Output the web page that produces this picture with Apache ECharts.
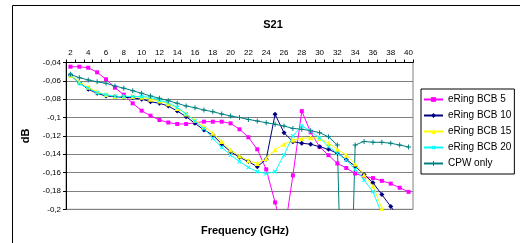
<!DOCTYPE html>
<html>
<head>
    <meta charset="utf-8">
    <title>S21</title>
    <script src="https://cdn.jsdelivr.net/npm/echarts@6/dist/echarts.min.js"></script>
    <style>
        html, body { margin: 0; padding: 0; background: #fff; }
    </style>
</head>
<body>
<div id="main" style="width: 520px;height:243px;"></div>
<script>

// frequency (GHz) categories
var freq = [2, 3, 4, 5, 6, 7, 8, 9, 10, 11, 12, 13, 14, 15, 16, 17, 18, 19, 20,
    21, 22, 23, 24, 25, 26, 27, 28, 29, 30, 31, 32, 33, 34, 35, 36, 37, 38, 39, 40];

var bcb5 = [-0.0446, -0.0446, -0.0457, -0.0507, -0.0583, -0.0675, -0.0751, -0.0845, -0.0925, -0.098,
    -0.1027, -0.1054, -0.107, -0.107, -0.1056, -0.1045, -0.1045, -0.1045, -0.1063, -0.1128,
    -0.1215, -0.1346, -0.1564, -0.1925, -0.229, -0.163, -0.093, -0.116, -0.132, -0.141,
    -0.15, -0.155, -0.161, -0.164, -0.166, -0.169, -0.172, -0.1765, -0.181];

var bcb10 = [-0.0536, -0.062, -0.0692, -0.0736, -0.0765, -0.0773, -0.078, -0.0785, -0.08, -0.0827,
    -0.0845, -0.0874, -0.0929, -0.099, -0.1063, -0.1136, -0.119, -0.1288, -0.1372, -0.1433,
    -0.148, -0.1536, -0.1455, -0.0965, -0.1165, -0.1263, -0.128, -0.129, -0.1318, -0.1346,
    -0.139, -0.1456, -0.153, -0.162, -0.171, -0.184, -0.197, -0.21, -0.222];

var bcb15 = [-0.054, -0.061, -0.067, -0.072, -0.075, -0.077, -0.077, -0.077, -0.078, -0.08,
    -0.082, -0.085, -0.09, -0.096, -0.103, -0.11, -0.117, -0.126, -0.1354, -0.142,
    -0.147, -0.15, -0.1445, -0.135, -0.129, -0.1245, -0.1227, -0.122, -0.1227, -0.128,
    -0.1346, -0.141, -0.1506, -0.1627, -0.1746, -0.199, -0.22, -0.24, -0.26];

var bcb20 = [-0.054, -0.063, -0.068, -0.073, -0.075, -0.077, -0.077, -0.077, -0.077, -0.078,
    -0.081, -0.084, -0.089, -0.096, -0.104, -0.112, -0.1227, -0.1325, -0.141, -0.148,
    -0.1543, -0.159, -0.161, -0.159, -0.141, -0.12, -0.109, -0.115, -0.1222, -0.1318,
    -0.139, -0.1463, -0.1564, -0.168, -0.1808, -0.205, -0.23, -0.25, -0.27];

var cpw = [-0.0529, -0.0566, -0.059, -0.061, -0.0627, -0.0656, -0.068, -0.0707, -0.0736, -0.0765,
    -0.079, -0.0816, -0.0845, -0.0874, -0.0893, -0.0918, -0.0936, -0.0961, -0.0983, -0.1,
    -0.102, -0.1038, -0.1056, -0.1074, -0.1092, -0.1118, -0.1128, -0.1143, -0.1165, -0.121,
    -0.13, -0.5, -0.13, -0.126, -0.127, -0.127, -0.128, -0.13, -0.132];

var font = 'Liberation Sans, Arial, sans-serif';
var plusPath = 'path://M4,0H6V4H10V6H6V10H4V6H0V4H4Z';

function mkSeries(name, data, color, symbol, size, rotate) {
    return {
        name: name,
        type: 'line',
        data: data,
        symbol: symbol,
        symbolSize: size,
        symbolRotate: rotate || 0,
        showAllSymbol: true,
        animation: false,
        lineStyle: { color: color, width: 1 },
        itemStyle: { color: color }
    };
}

option = {
    backgroundColor: '#fff',
    animation: false,
    title: [
        {
            text: 'S21',
            left: 268, top: 14,
            textAlign: 'center',
            textStyle: { fontFamily: font, fontSize: 11, fontWeight: 'bold', color: '#000' }
        },
        {
            text: 'Frequency (GHz)',
            left: 240, top: 220,
            textAlign: 'center',
            textStyle: { fontFamily: font, fontSize: 11, fontWeight: 'bold', color: '#000' }
        }
    ],
    graphic: [
        {
            type: 'rect',
            shape: { x: 12.5, y: 5.5, width: 600, height: 300 },
            style: { fill: 'none', stroke: '#000', lineWidth: 1 },
            silent: true
        }
    ],
    legend: {
        orient: 'vertical',
        left: 421,
        top: 89,
        itemWidth: 19,
        itemHeight: 6,
        itemGap: 5,
        padding: [5, 3, 5, 2],
        borderColor: '#000',
        borderWidth: 1,
        backgroundColor: '#fff',
        textStyle: { fontFamily: font, fontSize: 10, color: '#000', lineHeight: 11 },
        data: ['eRing BCB 5', 'eRing BCB 10', 'eRing BCB 15', 'eRing BCB 20', 'CPW only']
    },
    grid: {
        left: 66, right: 107, top: 62.5, height: 146.8,
        show: true, borderColor: '#808080', borderWidth: 1,
        containLabel: false
    },
    xAxis: {
        type: 'category',
        position: 'top',
        data: freq,
        boundaryGap: true,
        axisLine: { lineStyle: { color: '#000', width: 1 } },
        axisTick: { show: true, interval: 0, length: 3, lineStyle: { color: '#000' } },
        axisLabel: { interval: 1, fontFamily: font, fontSize: 8, color: '#000', margin: 6 },
        splitLine: { show: false }
    },
    yAxis: {
        type: 'value',
        min: -0.2,
        max: -0.04,
        interval: 0.02,
        name: 'dB',
        nameLocation: 'middle',
        nameGap: 34,
        nameTextStyle: { fontFamily: font, fontSize: 11, fontWeight: 'bold', color: '#000' },
        axisLine: { show: true, lineStyle: { color: '#000', width: 1 } },
        axisTick: { show: true, length: 3, lineStyle: { color: '#000' } },
        axisLabel: {
            fontFamily: font, fontSize: 8, color: '#000', margin: 5,
            formatter: function (v) { return String(+v.toFixed(2)).replace('.', ','); }
        },
        splitLine: { show: true, lineStyle: { color: '#808080', width: 1 } }
    },
    series: [
        mkSeries('eRing BCB 5', bcb5, '#FF00FF', 'rect', 4),
        mkSeries('eRing BCB 10', bcb10, '#000080', 'diamond', 5),
        mkSeries('eRing BCB 15', bcb15, '#FFFF00', 'triangle', 5),
        mkSeries('eRing BCB 20', bcb20, '#00FFFF', plusPath, 5, 45),
        mkSeries('CPW only', cpw, '#008080', plusPath, 5)
    ]
};

var myChart = echarts.init(document.getElementById('main'));
myChart.setOption(option);

</script>
</body>
</html>
